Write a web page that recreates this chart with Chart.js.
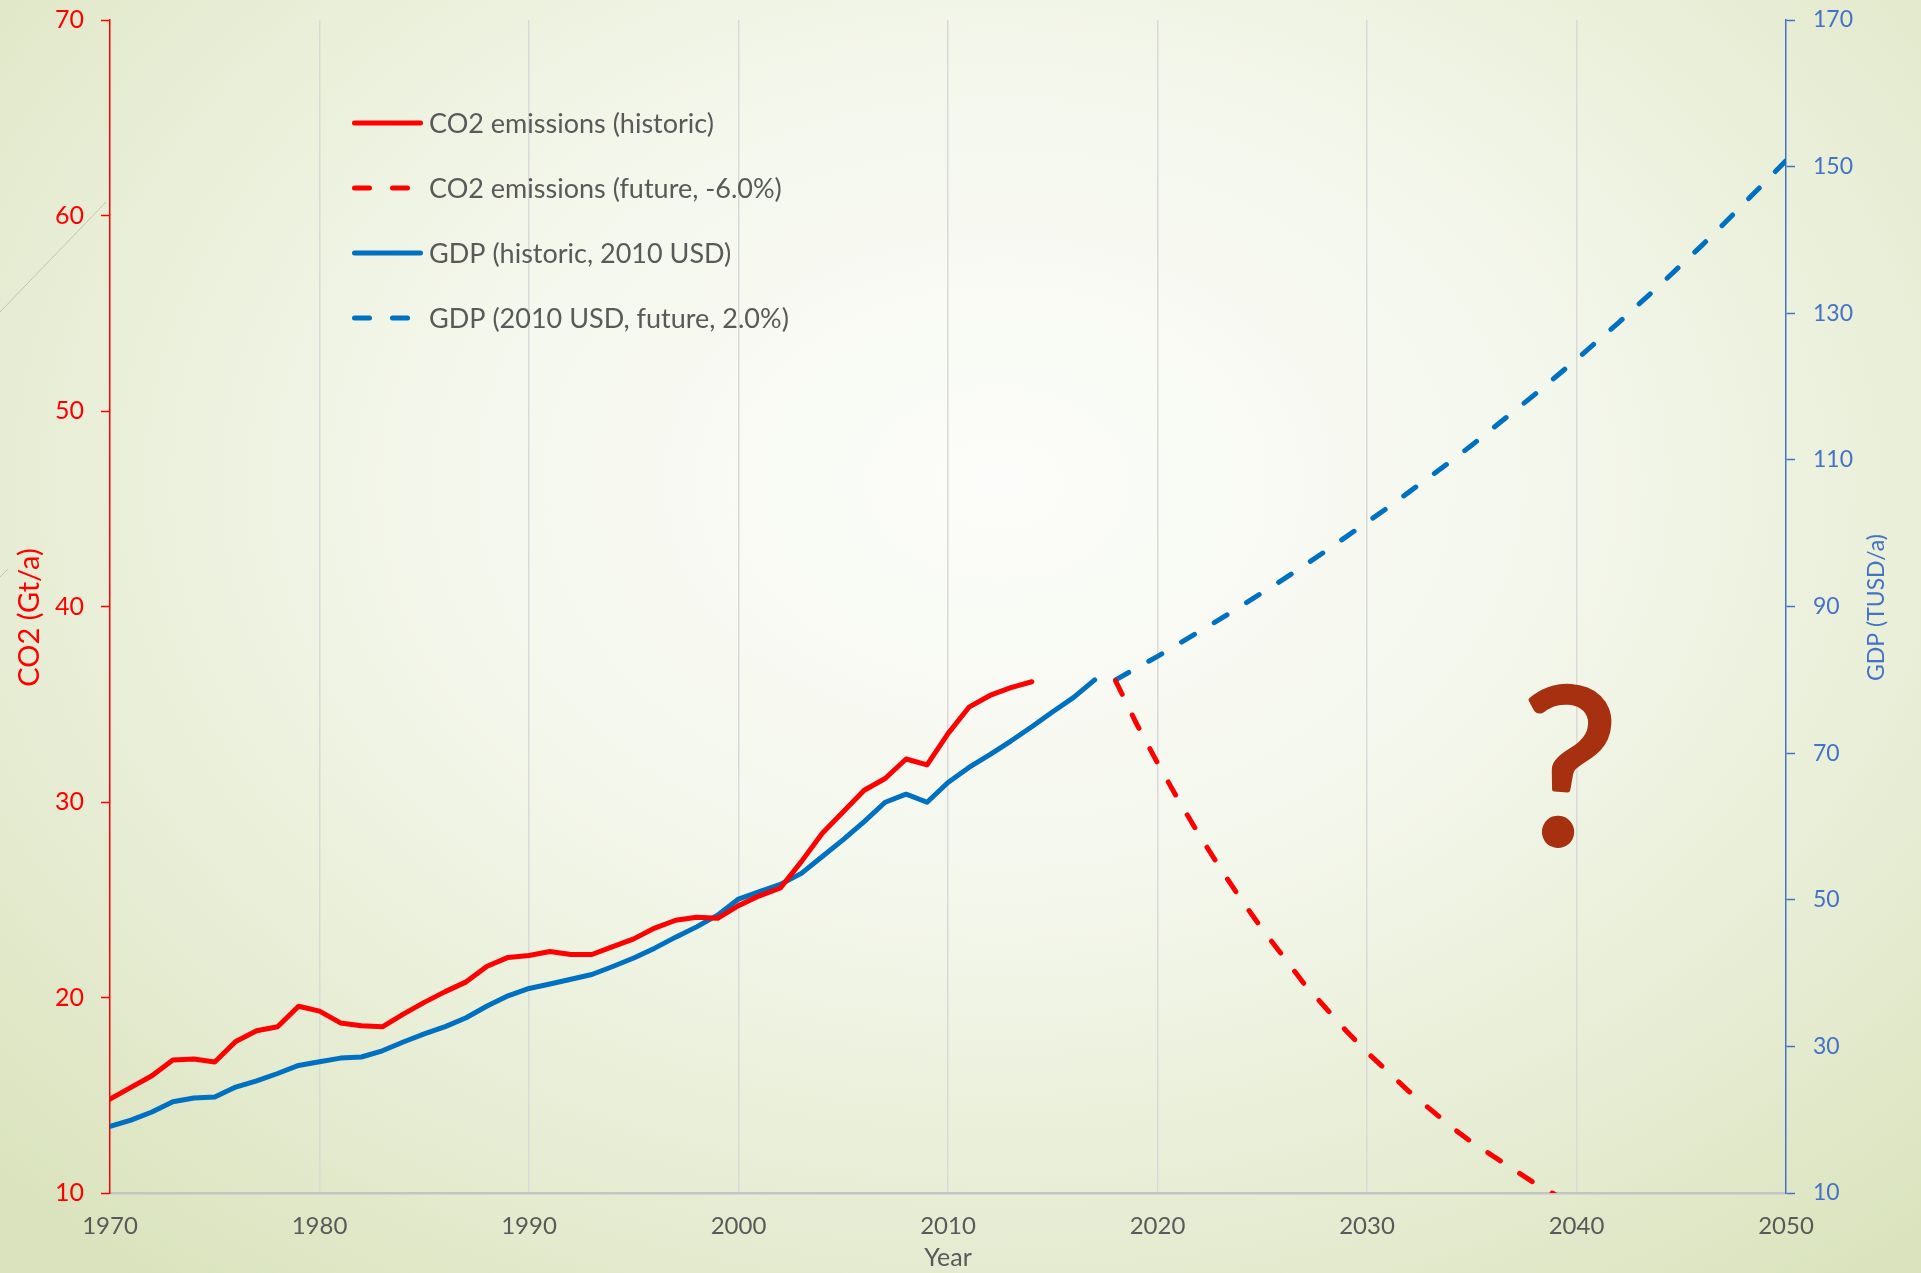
<!DOCTYPE html>
<html>
<head>
<meta charset="utf-8">
<script src="https://cdn.jsdelivr.net/npm/chart.js@4.4.1/dist/chart.umd.min.js"></script>
<style>
  html, body { margin: 0; padding: 0; }
  #wrap {
    width: 1921px; height: 1273px; position: relative;
    background: radial-gradient(ellipse 72% 80% at 52% 38%, #fcfdfa 0%, #f4f7ec 40%, #e6ecd2 75%, #dae3bd 100%);
  }
  canvas { display: block; }
</style>
</head>
<body>
<div id="wrap"><canvas id="chart" width="1921" height="1273"></canvas></div>
<script>
const histYears = [1970,1971,1972,1973,1974,1975,1976,1977,1978,1979,
                   1980,1981,1982,1983,1984,1985,1986,1987,1988,1989,
                   1990,1991,1992,1993,1994,1995,1996,1997,1998,1999,
                   2000,2001,2002,2003,2004,2005,2006,2007,2008,2009,
                   2010,2011,2012,2013,2014,2015,2016,2017];
const futureYears = [2018,2019,2020,2021,2022,2023,2024,2025,2026,2027,
                     2028,2029,2030,2031,2032,2033,2034,2035,2036,2037,
                     2038,2039,2040,2041,2042,2043,2044,2045,2046,2047,
                     2048,2049,2050];

// CO2 (Gt/a), 1970-2014
const co2Hist = [14.8,15.4,16.0,16.8,16.85,16.7,17.75,18.3,18.5,19.55,
                 19.3,18.7,18.55,18.5,19.15,19.75,20.3,20.8,21.6,22.05,
                 22.15,22.35,22.2,22.2,22.6,23.0,23.55,23.95,24.1,24.05,
                 24.7,25.2,25.6,26.95,28.4,29.5,30.6,31.2,32.2,31.9,
                 33.5,34.85,35.45,35.85,36.15];
// CO2 future, 2018-2040
const co2Future = [36.2,34.0,32.0,30.1,28.3,26.6,25.0,23.5,22.1,20.7,
                   19.5,18.3,17.2,16.2,15.2,14.3,13.4,12.6,11.9,11.2,
                   10.5,9.9,9.3];
// GDP (TUSD/a), 1970-2017
const gdpHist = [19.1,19.95,21.05,22.45,22.95,23.1,24.45,25.3,26.3,27.4,
                 27.9,28.4,28.55,29.4,30.6,31.7,32.7,33.9,35.5,36.9,
                 37.9,38.5,39.15,39.8,40.9,42.05,43.4,44.9,46.3,47.9,
                 50.1,51.1,52.1,53.6,55.9,58.2,60.65,63.3,64.4,63.3,
                 66.0,68.05,69.8,71.65,73.6,75.65,77.6,80.0];
// GDP future, 2018-2050
const gdpFuture = [80.0,81.6,83.2,84.9,86.6,88.3,90.1,91.9,93.7,95.6,
                   97.5,99.5,101.5,103.5,105.6,107.7,109.8,112.0,114.3,116.6,
                   118.9,121.3,123.7,126.2,128.7,131.3,133.9,136.6,139.3,142.1,
                   145.0,147.9,150.8];

const seriesLabels = ['CO2 emissions (historic)', 'CO2 emissions (future, -6.0%)',
                      'GDP (historic, 2010 USD)', 'GDP (2010 USD, future, 2.0%)'];
const xTitle = 'Year';
const yLeftTitle = 'CO2 (Gt/a)';
const yRightTitle = 'GDP (TUSD/a)';

const RED = '#ff0000', BLUE = '#0070c0', AXBLUE = '#4472c4', GREY = '#595959';
const DASH = [15, 23];
const FONT = 'Lato';

const pts = (xs, ys) => ys.map((v, i) => ({ x: xs[i], y: v }));

// vertical title, reads bottom to top
function vtitle(c, text, x, y, color, size) {
  c.save();
  c.translate(x, y);
  c.rotate(-Math.PI / 2);
  c.fillStyle = color;
  c.font = size + 'px ' + FONT;
  c.textAlign = 'center';
  c.textBaseline = 'middle';
  c.fillText(text, 0, 0);
  c.restore();
}

const deco = {
  id: 'deco',
  beforeDraw(chart) {
    const c = chart.ctx;
    c.save();
    c.strokeStyle = 'rgba(170,170,150,0.6)';
    c.lineWidth = 1;
    c.beginPath(); c.moveTo(0, 312); c.lineTo(106, 202); c.stroke();
    c.beginPath(); c.moveTo(0, 577); c.lineTo(8, 569); c.stroke();
    c.restore();
  },
  afterDraw(chart) {
    const c = chart.ctx;
    // legend
    c.save();
    chart.data.datasets.forEach((ds, i) => {
      const y = 123 + i * 65;
      c.strokeStyle = ds.borderColor;
      c.lineWidth = 5;
      c.lineCap = 'round';
      c.setLineDash(ds.borderDash || []);
      c.beginPath(); c.moveTo(354.5, y); c.lineTo(420.5, y); c.stroke();
      c.setLineDash([]);
      c.fillStyle = GREY;
      c.font = '27px ' + FONT;
      c.textBaseline = 'middle';
      c.textAlign = 'left';
      c.fillText(ds.label, 429, y + 1);
    });
    c.restore();
    const ca = chart.chartArea;
    vtitle(c, yLeftTitle, 30, (ca.top + ca.bottom) / 2 + 11, RED, 29);
    vtitle(c, yRightTitle, chart.scales.y1.right - 44, (ca.top + ca.bottom) / 2 + 1, AXBLUE, 23);
    // question mark annotation
    c.save();
    c.translate(1567, 768);
    c.rotate(0.06);
    c.fillStyle = '#a63010';
    c.strokeStyle = '#a63010';
    c.lineWidth = 5;
    c.lineJoin = 'round';
    c.font = '218px ' + FONT;
    c.textAlign = 'center';
    c.textBaseline = 'middle';
    c.fillText('?', 0, 6);
    c.strokeText('?', 0, 6);
    c.restore();
  }
};

new Chart(document.getElementById('chart'), {
  type: 'line',
  data: {
    datasets: [
      { label: seriesLabels[0], data: pts(histYears, co2Hist), yAxisID: 'y',
        borderColor: RED, borderWidth: 5 },
      { label: seriesLabels[1], data: pts(futureYears, co2Future), yAxisID: 'y',
        borderColor: RED, borderWidth: 5, borderDash: DASH },
      { label: seriesLabels[2], data: pts(histYears, gdpHist), yAxisID: 'y1',
        borderColor: BLUE, borderWidth: 5 },
      { label: seriesLabels[3], data: pts(futureYears, gdpFuture), yAxisID: 'y1',
        borderColor: BLUE, borderWidth: 5, borderDash: DASH }
    ]
  },
  options: {
    responsive: false,
    animation: false,
    layout: { padding: { top: 20, left: 0, right: 0, bottom: 0 } },
    elements: {
      point: { radius: 0 },
      line: { tension: 0, borderCapStyle: 'round', borderJoinStyle: 'round', fill: false }
    },
    plugins: { legend: { display: false }, tooltip: { enabled: false } },
    scales: {
      x: {
        type: 'linear', min: 1970, max: 2050,
        ticks: { stepSize: 10, color: GREY, font: { family: FONT, size: 24 }, padding: 19,
                 callback: v => String(v) },
        grid: { color: c => (c.index === 0 || c.index === 8) ? 'rgba(0,0,0,0)' : '#d9d9d9',
                lineWidth: 1.5, drawTicks: false },
        border: { color: '#c4c4c4', width: 2.5 },
        title: { display: true, text: xTitle, color: GREY,
                 font: { family: FONT, size: 25 }, padding: { top: 0, bottom: 0 } },
        afterFit: s => { s.height = 80; }
      },
      y: {
        position: 'left', min: 10, max: 70,
        ticks: { stepSize: 10, color: RED, font: { family: FONT, size: 25 }, padding: 17 },
        grid: { drawOnChartArea: false, tickLength: 9, tickColor: RED, tickWidth: 1.5 },
        border: { color: RED, width: 1.5 },
        afterFit: s => { s.width = 110; s.paddingTop = 0; s.paddingBottom = 0; }
      },
      y1: {
        position: 'right', min: 10, max: 170,
        ticks: { stepSize: 20, color: AXBLUE, font: { family: FONT, size: 23 }, padding: 18 },
        grid: { drawOnChartArea: false, tickLength: 9, tickColor: AXBLUE, tickWidth: 1.5 },
        border: { color: AXBLUE, width: 1.5 },
        afterFit: s => { s.width = 135; s.paddingTop = 0; s.paddingBottom = 0; }
      }
    }
  },
  plugins: [deco]
});
</script>
</body>
</html>
